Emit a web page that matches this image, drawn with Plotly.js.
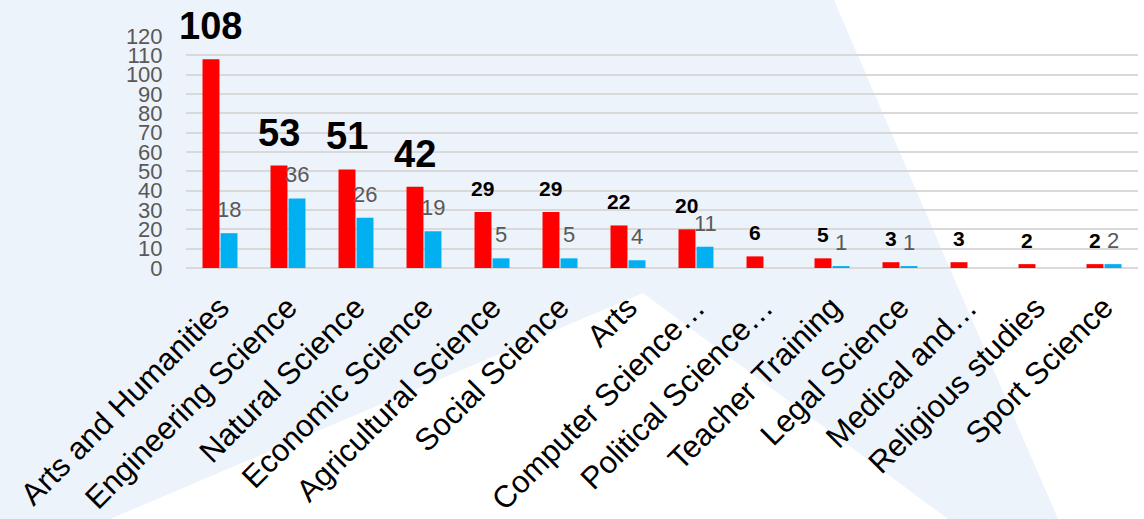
<!DOCTYPE html>
<html>
<head>
<meta charset="utf-8">
<script src="https://cdn.plot.ly/plotly-3.0.1.min.js"></script>
<style>
  html, body { margin: 0; padding: 0; background: #ffffff; }
  #wrap { position: relative; width: 1144px; height: 519px; overflow: hidden; }
  #bg { position: absolute; left: 0; top: 0; width: 1144px; height: 519px; background: #ECF3FB;
        clip-path: polygon(0px 0px, 834px 0px, 1058px 519px, 948px 519px, 643px 293px, 110px 519px, 0px 519px); }
  #chart { position: absolute; left: 0; top: 0; width: 1144px; height: 519px; }
</style>
</head>
<body>
<div id="wrap">
  <div id="bg"></div>
  <div id="chart"></div>
</div>
<script>
const categories = ["Arts and Humanities", "Engineering Science", "Natural Science", "Economic Science",
  "Agricultural Science", "Social Science", "Arts", "Computer Science\u2026", "Political Science\u2026",
  "Teacher Training", "Legal Science", "Medical and\u2026", "Religious studies", "Sport Science"];
const redValues  = [108, 53, 51, 42, 29, 29, 22, 20, 6, 5, 3, 3, 2, 2];
const blueValues = [18, 36, 26, 19, 5, 5, 4, 11, null, 1, 1, null, null, 2];
const redLabelSizes = [38, 38, 38, 38, 21, 21, 21, 21, 21, 21, 21, 21, 21, 21];
const yTicks = [0, 10, 20, 30, 40, 50, 60, 70, 80, 90, 100, 110, 120];

const bargap = 0.47, bargroupgap = 0.06;
const off = (1 - bargap) / 4;

const traces = [
  { type: 'bar', x: categories, y: redValues, marker: { color: '#FF0000' }, name: 'A', hoverinfo: 'none' },
  { type: 'bar', x: categories, y: blueValues, marker: { color: '#00B0F0' }, name: 'B', hoverinfo: 'none' }
];

const annotations = [];
redValues.forEach((v, i) => {
  if (v == null) return;
  annotations.push({ x: i - off, y: v, xref: 'x', yref: 'y', text: String(v), showarrow: false,
    yanchor: 'bottom', yshift: 10,
    font: { family: 'Liberation Sans, Arial, sans-serif', size: redLabelSizes[i], color: '#000000', weight: 'bold' } });
});
blueValues.forEach((v, i) => {
  if (v == null) return;
  annotations.push({ x: i + off, y: v, xref: 'x', yref: 'y', text: String(v), showarrow: false,
    yanchor: 'bottom', yshift: 9,
    font: { family: 'Liberation Sans, Arial, sans-serif', size: 22, color: '#595959' } });
});

const layout = {
  width: 1144, height: 519,
  margin: { l: 186, r: 6, t: 36, b: 251 },
  paper_bgcolor: 'rgba(0,0,0,0)', plot_bgcolor: 'rgba(0,0,0,0)',
  barmode: 'group', bargap: bargap, bargroupgap: bargroupgap,
  showlegend: false,
  font: { family: 'Liberation Sans, Arial, sans-serif' },
  xaxis: {
    type: 'category', range: [-0.5, categories.length - 0.5], tickangle: -45,
    tickfont: { size: 31, color: '#000000' },
    ticks: 'outside', ticklen: 8, tickcolor: 'rgba(0,0,0,0)',
    showgrid: false, zeroline: false, showline: false, fixedrange: true
  },
  yaxis: {
    range: [0, 120], tickvals: yTicks, ticktext: yTicks.map(String),
    tickfont: { size: 22, color: '#595959' },
    ticks: 'outside', ticklen: 18, tickcolor: 'rgba(0,0,0,0)',
    showgrid: true, gridcolor: '#D9D9D9', gridwidth: 2,
    zeroline: true, zerolinecolor: '#D9D9D9', zerolinewidth: 2,
    showline: false, fixedrange: true
  },
  annotations: annotations
};

Plotly.newPlot('chart', traces, layout, { displayModeBar: false, staticPlot: true });
</script>
</body>
</html>
